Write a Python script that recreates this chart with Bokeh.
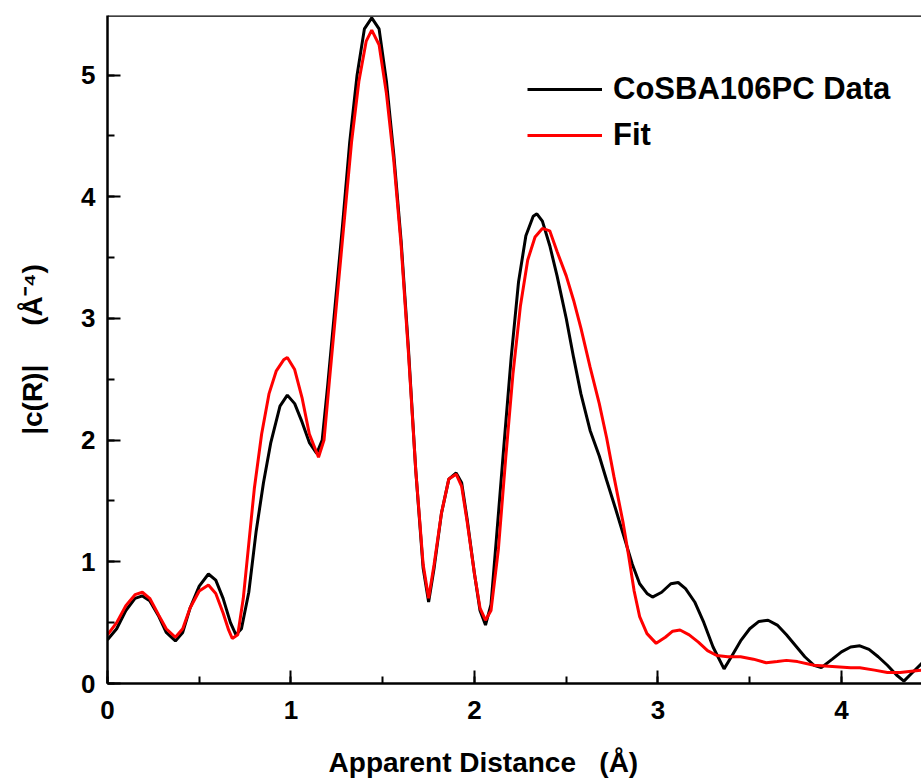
from bokeh.plotting import figure
from bokeh.models import Range1d, SingleIntervalTicker, Legend, LegendItem, Span
from bokeh.embed import file_html
from bokeh.resources import INLINE

# ---- data ----
data_x = [0.00, 0.05, 0.10, 0.15, 0.19, 0.23, 0.28, 0.32, 0.37, 0.41, 0.45, 0.50, 0.55, 0.59, 0.63,
          0.67, 0.70, 0.73, 0.77, 0.81, 0.85, 0.89, 0.94, 0.98, 1.02, 1.06, 1.10, 1.14, 1.17, 1.20,
          1.24, 1.28, 1.32, 1.36, 1.40, 1.44, 1.48, 1.52, 1.56, 1.60, 1.64, 1.68, 1.72, 1.75, 1.78,
          1.82, 1.86, 1.90, 1.93, 1.96, 2.00, 2.03, 2.06, 2.09, 2.12, 2.16, 2.20, 2.24, 2.28, 2.32,
          2.34, 2.37, 2.41, 2.45, 2.50, 2.54, 2.58, 2.63, 2.68, 2.72, 2.77, 2.81, 2.86, 2.90, 2.94,
          2.97, 3.02, 3.07, 3.11, 3.15, 3.20, 3.25, 3.30, 3.36, 3.40, 3.45, 3.50, 3.55, 3.60, 3.65,
          3.70, 3.75, 3.80, 3.85, 3.89, 3.95, 4.00, 4.05, 4.10, 4.15, 4.20, 4.25, 4.30, 4.34, 4.38,
          4.44]
data_y = [0.36, 0.45, 0.60, 0.70, 0.72, 0.68, 0.55, 0.42, 0.35, 0.42, 0.62, 0.80, 0.90, 0.85, 0.70,
          0.50, 0.40, 0.45, 0.75, 1.25, 1.65, 1.98, 2.28, 2.37, 2.30, 2.15, 1.98, 1.89, 2.00, 2.45,
          3.10, 3.75, 4.45, 5.00, 5.38, 5.47, 5.38, 4.95, 4.35, 3.64, 2.75, 1.75, 0.95, 0.67, 0.95,
          1.40, 1.68, 1.73, 1.65, 1.35, 0.90, 0.60, 0.48, 0.65, 1.20, 1.95, 2.68, 3.30, 3.68, 3.84,
          3.86, 3.80, 3.60, 3.35, 3.00, 2.68, 2.38, 2.08, 1.87, 1.67, 1.43, 1.23, 0.98, 0.82, 0.74,
          0.71, 0.75, 0.82, 0.83, 0.78, 0.67, 0.50, 0.30, 0.12, 0.22, 0.35, 0.45, 0.51, 0.52, 0.48,
          0.40, 0.31, 0.22, 0.15, 0.13, 0.20, 0.26, 0.30, 0.31, 0.28, 0.22, 0.15, 0.07, 0.02, 0.08,
          0.17]

fit_x = [0.00, 0.05, 0.10, 0.15, 0.19, 0.23, 0.28, 0.32, 0.37, 0.41, 0.45, 0.50, 0.55, 0.59, 0.63,
         0.66, 0.68, 0.71, 0.74, 0.77, 0.80, 0.84, 0.88, 0.92, 0.96, 0.98, 1.02, 1.06, 1.10, 1.15,
         1.18, 1.21, 1.25, 1.29, 1.33, 1.37, 1.41, 1.44, 1.48, 1.52, 1.56, 1.60, 1.64, 1.68, 1.72,
         1.75, 1.78, 1.82, 1.86, 1.90, 1.93, 1.96, 2.00, 2.03, 2.06, 2.09, 2.13, 2.17, 2.21, 2.25,
         2.29, 2.33, 2.37, 2.41, 2.45, 2.50, 2.54, 2.58, 2.63, 2.68, 2.72, 2.76, 2.81, 2.84, 2.87,
         2.90, 2.94, 2.99, 3.04, 3.08, 3.12, 3.17, 3.22, 3.27, 3.32, 3.38, 3.45, 3.52, 3.59, 3.65,
         3.70, 3.76, 3.85, 3.95, 4.05, 4.10, 4.18, 4.25, 4.32, 4.38, 4.44]
fit_y = [0.40, 0.50, 0.64, 0.73, 0.75, 0.70, 0.56, 0.45, 0.38, 0.45, 0.62, 0.76, 0.81, 0.74, 0.58,
         0.44, 0.37, 0.40, 0.70, 1.15, 1.60, 2.05, 2.38, 2.57, 2.66, 2.68, 2.58, 2.35, 2.05, 1.86,
         2.00, 2.50, 3.15, 3.80, 4.45, 4.95, 5.28, 5.37, 5.25, 4.85, 4.30, 3.60, 2.72, 1.75, 0.98,
         0.70, 0.98, 1.40, 1.68, 1.72, 1.62, 1.33, 0.90, 0.62, 0.52, 0.60, 1.10, 1.85, 2.55, 3.10,
         3.48, 3.67, 3.74, 3.72, 3.55, 3.35, 3.15, 2.92, 2.60, 2.30, 2.02, 1.70, 1.32, 1.05, 0.76,
         0.55, 0.41, 0.33, 0.38, 0.43, 0.44, 0.40, 0.34, 0.27, 0.23, 0.22, 0.22, 0.20, 0.17, 0.18,
         0.19, 0.18, 0.15, 0.14, 0.13, 0.13, 0.11, 0.09, 0.09, 0.10, 0.11]

series_names = ["CoSBA106PC Data", "Fit"]
x_label = "Apparent Distance\u00a0\u00a0\u00a0(\u00c5)" + "\u00a0" * 8
y_label = "|c(R)|\u00a0\u00a0\u00a0\u00a0\u00a0(\u00c5\u207b\u2074)"

FONT = "Liberation Sans"

p = figure(width=921, height=783, output_backend="svg", toolbar_location=None,
           x_range=Range1d(0, 4.436), y_range=Range1d(0, 5.49),
           min_border_left=107, min_border_right=0, min_border_top=15, min_border_bottom=100)
p.outline_line_color = None
p.grid.visible = False
p.background_fill_color = "white"
p.border_fill_color = "white"

r_data = p.line(data_x, data_y, line_color="black", line_width=3)
r_fit = p.line(fit_x, fit_y, line_color="#ff0000", line_width=3)

top = Span(location=5.49, dimension="width", line_color="black", line_width=2.5)
p.add_layout(top)

for ax in (p.xaxis[0], p.yaxis[0]):
    ax.ticker = SingleIntervalTicker(interval=1, num_minor_ticks=2)
    ax.axis_line_width = 2.5
    ax.axis_line_color = "black"
    ax.major_tick_in = 13
    ax.major_tick_out = 0
    ax.minor_tick_in = 7
    ax.minor_tick_out = 0
    ax.major_tick_line_width = 2
    ax.minor_tick_line_width = 2
    ax.major_label_text_font = FONT
    ax.major_label_text_font_style = "bold"
    ax.major_label_text_font_size = "26px"
    ax.major_label_text_color = "black"
    ax.axis_label_text_font = FONT
    ax.axis_label_text_font_style = "bold"
    ax.axis_label_text_font_size = "28px"
    ax.axis_label_text_color = "black"

p.xaxis[0].axis_label = x_label
p.yaxis[0].axis_label = y_label
p.xaxis[0].major_label_standoff = 17
p.xaxis[0].axis_label_standoff = 25
p.yaxis[0].major_label_standoff = 12
p.yaxis[0].axis_label_standoff = 30

legend = Legend(items=[LegendItem(label=series_names[0], renderers=[r_data]),
                       LegendItem(label=series_names[1], renderers=[r_fit])],
                location=(420, 530))
legend.glyph_width = 75
legend.glyph_height = 30
legend.label_height = 30
legend.label_standoff = 11
legend.spacing = 10
legend.padding = 0
legend.margin = 0
legend.border_line_color = None
legend.background_fill_alpha = 0
legend.label_text_font = FONT
legend.label_text_font_style = "bold"
legend.label_text_font_size = "31px"
legend.label_text_color = "black"
p.add_layout(legend)

open("out.html", "w").write(file_html(p, INLINE))
